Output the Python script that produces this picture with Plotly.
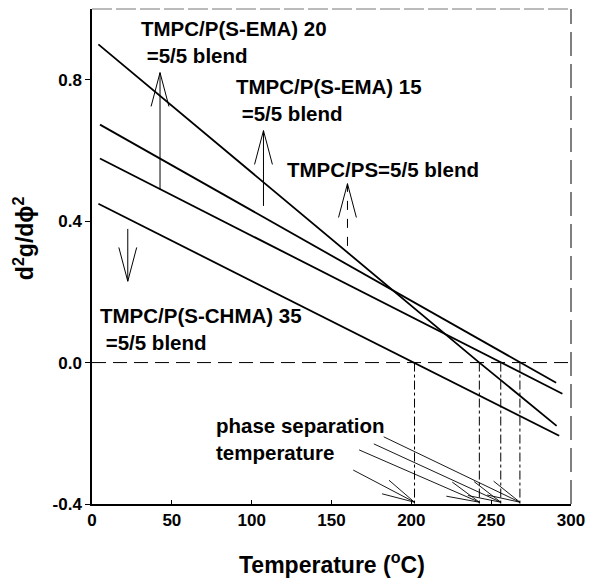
import math
import plotly.graph_objects as go

# ---------------- data ----------------
# d2g/dphi2 vs temperature, four blends
ema20_T = [4, 242.6, 291]
ema20_v = [0.90, 0.0, -0.179]
ema15_T = [5, 268, 290.7]
ema15_v = [0.673, 0.0, -0.057]
ps_T = [5, 256, 294.6]
ps_v = [0.577, 0.0, -0.088]
chma35_T = [4, 202, 292.6]
chma35_v = [0.449, 0.0, -0.207]

# phase separation temperatures (zero crossings)
phase_T = [202, 242.6, 256, 268]
# pointer lines from the "phase separation temperature" label
pointer_start_T = [163.6, 167.3, 176.5, 182.7]
pointer_start_v = [-0.304, -0.247, -0.230, -0.210]

# vertical arrows (x, from, to)
arrow_T = [42.6, 107.4, 160, 22.4]
arrow_from = [0.49, 0.443, 0.33, 0.378]
arrow_to = [0.82, 0.656, 0.506, 0.23]
arrow_dash = ["solid", "solid", "dash", "solid"]

x_ticks = [0, 50, 100, 150, 200, 250, 300]
y_ticks = [-0.4, 0.0, 0.4, 0.8]
y_ticktext = ["-0.4", "0.0", "0.4", "0.8"]

X_RANGE = [0, 300]
Y_RANGE = [-0.4, 1.0]

W, H = 594, 588
M = dict(l=92, r=16, t=9, b=84)
SX = (W - M["l"] - M["r"]) / (X_RANGE[1] - X_RANGE[0])
SY = (H - M["t"] - M["b"]) / (Y_RANGE[1] - Y_RANGE[0])

FONT = "Liberation Sans, Arial, sans-serif"

fig = go.Figure()

for T, v in [(ema20_T, ema20_v), (ema15_T, ema15_v), (ps_T, ps_v), (chma35_T, chma35_v)]:
    fig.add_trace(go.Scatter(x=T, y=v, mode="lines",
                             line=dict(color="black", width=1.8),
                             showlegend=False, hoverinfo="skip"))


def head(x0, y0, x1, y1, length_px, half_angle):
    # open V arrow head at (x1, y1), computed in pixel space
    dx = (x1 - x0) * SX
    dy = (y1 - y0) * SY
    ang = math.atan2(dy, dx)
    xs, ys = [], []
    for s in (1, -1):
        a = ang + math.pi + s * math.radians(half_angle)
        xs += [x1 + length_px * math.cos(a) / SX, x1, None]
        ys += [y1 + length_px * math.sin(a) / SY, y1, None]
    return xs, ys


# drop lines
for t in phase_T:
    fig.add_trace(go.Scatter(x=[t, t], y=[0, Y_RANGE[0]], mode="lines",
                             line=dict(color="black", width=1, dash="dashdot"),
                             showlegend=False, hoverinfo="skip"))

# pointer arrows
for xs0, ys0, t in zip(pointer_start_T, pointer_start_v, phase_T):
    tip_y = Y_RANGE[0] + 0.005
    fig.add_trace(go.Scatter(x=[xs0, t], y=[ys0, tip_y], mode="lines",
                             line=dict(color="black", width=0.9),
                             showlegend=False, hoverinfo="skip"))
    hx, hy = head(xs0, ys0, t, tip_y, 34, 13)
    fig.add_trace(go.Scatter(x=hx, y=hy, mode="lines",
                             line=dict(color="black", width=0.9),
                             showlegend=False, hoverinfo="skip"))

# vertical arrows
for t, a, b, d in zip(arrow_T, arrow_from, arrow_to, arrow_dash):
    fig.add_trace(go.Scatter(x=[t, t], y=[a, b], mode="lines",
                             line=dict(color="black", width=1, dash=d),
                             showlegend=False, hoverinfo="skip"))
    hx, hy = head(t, a, t, b, 35, 15)
    fig.add_trace(go.Scatter(x=hx, y=hy, mode="lines",
                             line=dict(color="black", width=1),
                             showlegend=False, hoverinfo="skip"))

# zero line
fig.add_shape(type="line", xref="x", yref="y", x0=X_RANGE[0], x1=X_RANGE[1], y0=0, y1=0,
              line=dict(color="black", width=1, dash="14px,7px"))
# frame top / right
fig.add_shape(type="line", xref="paper", yref="paper", x0=0, x1=1, y0=1, y1=1,
              line=dict(color="#777", width=1, dash="20px,4px"))
fig.add_shape(type="line", xref="paper", yref="paper", x0=1, x1=1, y0=0, y1=1,
              line=dict(color="black", width=1, dash="24px,8px"))

NB = "\u00a0"
labels = [
    ("TMPC/P(S-EMA) 20<br>" + NB + "=5/5 blend", 29.3, 0.9077),
    ("TMPC/P(S-EMA) 15<br>" + NB + "=5/5 blend", 89.2, 0.743),
    ("TMPC/PS=5/5 blend", 121, 0.545),
    ("TMPC/P(S-CHMA) 35<br>" + NB + "=5/5 blend", 4.0, 0.0938),
    ("phase separation<br>temperature", 76.2, -0.2173),
]
for txt, x, y in labels:
    fig.add_annotation(x=x, y=y, xref="x", yref="y", text="<b>" + txt + "</b>",
                       showarrow=False, xanchor="left", yanchor="middle", align="left",
                       font=dict(family=FONT, size=20.5, color="black"))

# axis titles
fig.add_annotation(x=0.5, y=-0.119, xref="paper", yref="paper",
                   text="<b>Temperature (<sup>o</sup>C)</b>", showarrow=False,
                   xanchor="center", yanchor="middle",
                   font=dict(family=FONT, size=23, color="black"))
fig.add_annotation(x=-0.142, y=0.537, xref="paper", yref="paper",
                   text="<b>d<sup>2</sup>g/d\u03d5<sup>2</sup></b>", showarrow=False,
                   textangle=-90, xanchor="center", yanchor="middle",
                   font=dict(family=FONT, size=23, color="black"))

fig.update_layout(
    width=W, height=H, margin=M,
    paper_bgcolor="white", plot_bgcolor="white",
    showlegend=False,
    xaxis=dict(range=X_RANGE, tickvals=x_ticks, ticks="inside", ticklen=4,
               tickcolor="black", showline=True, linecolor="black", linewidth=1.5,
               showgrid=False, zeroline=False,
               tickfont=dict(family=FONT, size=17, color="black", weight="bold")),
    yaxis=dict(range=Y_RANGE, tickvals=y_ticks, ticktext=y_ticktext, ticks="outside",
               ticklen=5, tickcolor="black", showline=True, linecolor="black",
               linewidth=1.5, showgrid=False, zeroline=False,
               tickfont=dict(family=FONT, size=17, color="black", weight="bold")),
)

fig.write_html("out.html")
